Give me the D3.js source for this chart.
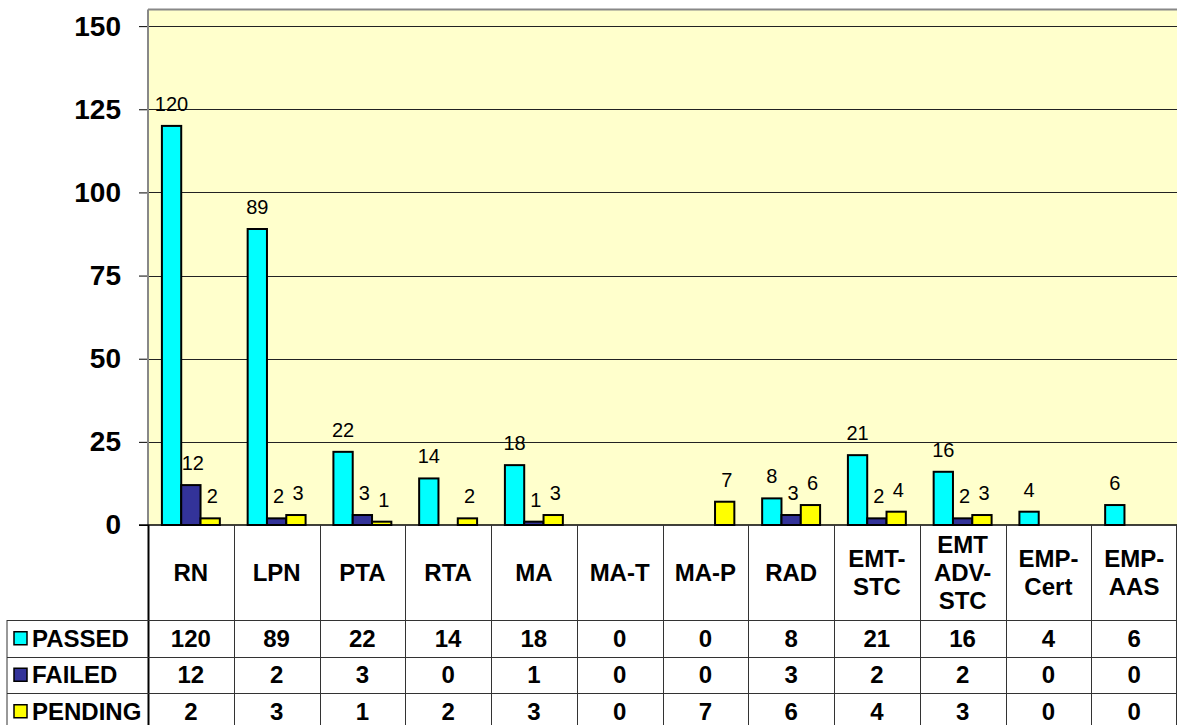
<!DOCTYPE html>
<html>
<head>
<meta charset="utf-8">
<script src="https://cdn.jsdelivr.net/npm/d3@7"></script>
<style>
body { margin: 0; background: #fff; }
svg { display: block; font-family: Arial, "Liberation Sans", sans-serif; }
.tick text { font-size: 28px; font-weight: bold; }
.val { font-size: 20px; }
.cell { font-size: 24px; font-weight: bold; }
</style>
</head>
<body>
<svg></svg>
<script>
var width = 1177;
var height = 725;

// data
var categories = ["RN", "LPN", "PTA", "RTA", "MA", "MA-T", "MA-P", "RAD", "EMT-\nSTC", "EMT\nADV-\nSTC", "EMP-\nCert", "EMP-\nAAS"];
var seriesNames = ["PASSED", "FAILED", "PENDING"];
var passed  = [120, 89, 22, 14, 18, 0, 0, 8, 21, 16, 4, 6];
var failed  = [12, 2, 3, 0, 1, 0, 0, 3, 2, 2, 0, 0];
var pending = [2, 3, 1, 2, 3, 0, 7, 6, 4, 3, 0, 0];
var yTicks = [0, 25, 50, 75, 100, 125, 150];

var seriesValues = [passed, failed, pending];
var colors = ["#00FFFF", "#333399", "#FFFF00"];

var svg = d3.select("svg")
    .attr("width", width)
    .attr("height", height);

var plotLeft = 148, plotRight = 1177, plotTop = 9.5, plotBottom = 525;
var tableLeft = 7;
var labelRowBottom = 620;
var rowH = 36.5;

var x = d3.scaleBand()
    .domain(d3.range(categories.length))
    .range([plotLeft, plotRight])
    .padding(0);

var xs = d3.scaleBand()
    .domain(d3.range(seriesNames.length))
    .range([0, x.bandwidth()])
    .paddingInner(0)
    .paddingOuter(0.72);

var y = d3.scaleLinear()
    .domain([0, 155])
    .range([plotBottom, plotTop]);

// plot background
svg.append("rect")
    .attr("x", plotLeft).attr("y", plotTop)
    .attr("width", plotRight - plotLeft).attr("height", plotBottom - plotTop)
    .attr("fill", "#FFFFCC");

// gridlines + y axis
svg.append("g")
    .attr("class", "grid")
    .selectAll("line")
    .data(yTicks.filter(function(d) { return d > 0; }))
    .enter().append("line")
    .attr("x1", plotLeft).attr("x2", plotRight)
    .attr("y1", function(d) { return Math.round(y(d)) + 0.5; })
    .attr("y2", function(d) { return Math.round(y(d)) + 0.5; })
    .attr("stroke", "#222").attr("stroke-width", 1);

var yAxis = svg.append("g")
    .attr("transform", "translate(" + plotLeft + ",0)")
    .call(d3.axisLeft(y).tickValues(yTicks).tickSize(9).tickPadding(18));
yAxis.select(".domain").remove();
yAxis.selectAll(".tick line").attr("stroke", "#000");
yAxis.selectAll(".tick text").attr("fill", "#000");

// plot border top + left
svg.append("line")
    .attr("x1", plotLeft).attr("x2", plotRight).attr("y1", plotTop).attr("y2", plotTop)
    .attr("stroke", "#888").attr("stroke-width", 2);
svg.append("line")
    .attr("x1", plotLeft).attr("x2", plotLeft).attr("y1", plotTop).attr("y2", plotBottom)
    .attr("stroke", "#888").attr("stroke-width", 2);

// bars
var bars = [];
seriesValues.forEach(function(vals, s) {
  vals.forEach(function(v, i) {
    bars.push({ s: s, i: i, v: v });
  });
});
var shown = bars.filter(function(d) { return d.v > 0; });

svg.append("g").selectAll("rect")
    .data(shown)
    .enter().append("rect")
    .attr("x", function(d) { return x(d.i) + xs(d.s); })
    .attr("y", function(d) { return y(d.v); })
    .attr("width", xs.bandwidth())
    .attr("height", function(d) { return y(0) - y(d.v); })
    .attr("fill", function(d) { return colors[d.s]; })
    .attr("stroke", "#000")
    .attr("stroke-width", 2);

// value labels
svg.append("g").selectAll("text")
    .data(shown)
    .enter().append("text")
    .attr("class", "val")
    .attr("x", function(d) { return x(d.i) + xs(d.s) + xs.bandwidth() / 2 + (d.s == 0 ? 0 : 2); })
    .attr("y", function(d) { return y(d.v) - 15; })
    .attr("text-anchor", "middle")
    .text(function(d) { return d.v; });

// x axis baseline
svg.append("line")
    .attr("x1", 139).attr("x2", plotRight).attr("y1", plotBottom).attr("y2", plotBottom)
    .attr("stroke", "#000").attr("stroke-width", 1.5);

// data table
var table = svg.append("g").attr("class", "table");
var tableBottom = labelRowBottom + rowH * 3;

// vertical lines
table.selectAll(".vline")
    .data(d3.range(categories.length + 1))
    .enter().append("line")
    .attr("x1", function(d) { return d == categories.length ? plotRight - 0.5 : Math.round(x(d)) + 0.5; })
    .attr("x2", function(d) { return d == categories.length ? plotRight - 0.5 : Math.round(x(d)) + 0.5; })
    .attr("y1", plotBottom).attr("y2", tableBottom)
    .attr("stroke", function(d) { return d == 0 ? "#000" : "#333"; })
    .attr("stroke-width", function(d) { return d == 0 ? 2 : 1; });

table.append("line")
    .attr("x1", tableLeft).attr("x2", tableLeft)
    .attr("y1", labelRowBottom).attr("y2", tableBottom)
    .attr("stroke", "#333");

// horizontal lines
table.selectAll(".hline")
    .data(d3.range(4))
    .enter().append("line")
    .attr("x1", tableLeft).attr("x2", plotRight)
    .attr("y1", function(d) { return Math.round(labelRowBottom + d * rowH) + 0.5; })
    .attr("y2", function(d) { return Math.round(labelRowBottom + d * rowH) + 0.5; })
    .attr("stroke", "#333");

// category labels
var catText = table.selectAll(".cat")
    .data(categories)
    .enter().append("text")
    .attr("class", "cell")
    .attr("text-anchor", "middle");
catText.each(function(d, i) {
  var lines = d.split("\n");
  var mid = (plotBottom + labelRowBottom) / 2;
  var lh = 28;
  var start = mid - (lines.length - 1) * lh / 2;
  d3.select(this).selectAll("tspan")
      .data(lines)
      .enter().append("tspan")
      .attr("x", x(i) + x.bandwidth() / 2)
      .attr("y", function(l, k) { return start + k * lh; })
      .attr("dy", "0.36em")
      .text(function(l) { return l; });
});

// rows
seriesNames.forEach(function(name, s) {
  var cy = labelRowBottom + s * rowH + rowH / 2;
  table.append("rect")
      .attr("x", 14).attr("y", cy - 6.5)
      .attr("width", 13).attr("height", 13)
      .attr("fill", colors[s])
      .attr("stroke", "#000").attr("stroke-width", 1.5);
  table.append("text")
      .attr("class", "cell")
      .attr("x", 32).attr("y", cy).attr("dy", "0.36em")
      .text(name);
  table.selectAll(".v" + s)
      .data(seriesValues[s])
      .enter().append("text")
      .attr("class", "cell")
      .attr("x", function(d, i) { return x(i) + x.bandwidth() / 2; })
      .attr("y", cy).attr("dy", "0.36em")
      .attr("text-anchor", "middle")
      .text(function(d) { return d; });
});
</script>
</body>
</html>
